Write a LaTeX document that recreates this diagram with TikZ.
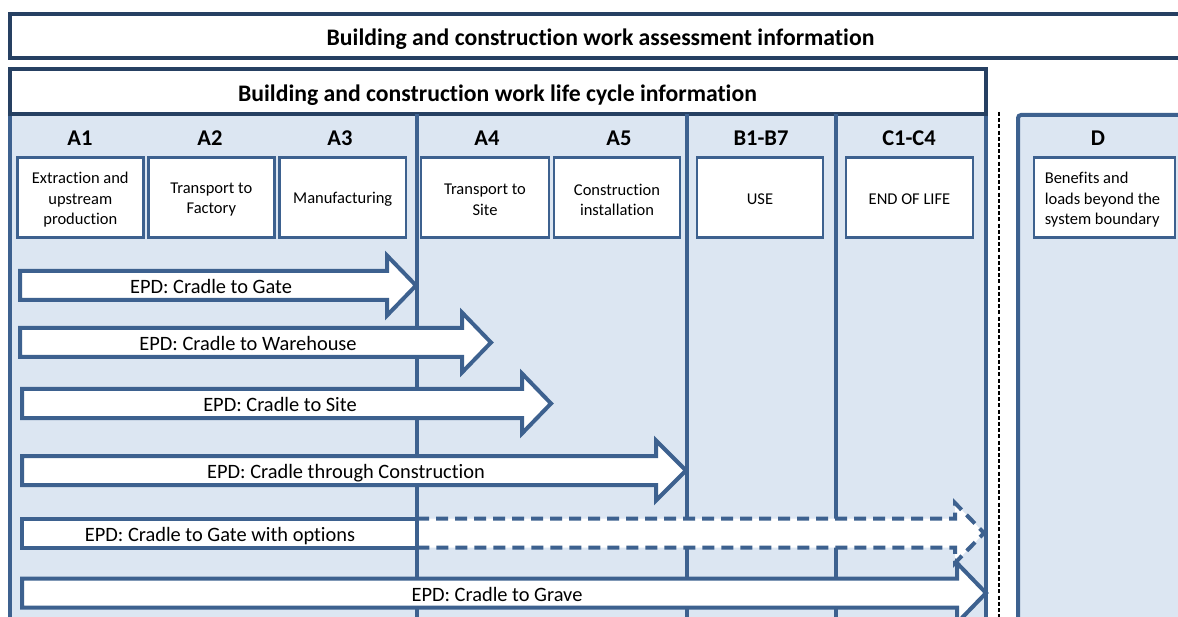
\documentclass[tikz,border=0pt]{standalone}
\usepackage{fontspec}
\setmainfont{Carlito}[Ligatures=NoCommon]
\definecolor{navy}{RGB}{38,64,98}
\definecolor{steel}{RGB}{61,97,143}
\definecolor{paleblue}{RGB}{220,230,242}
\tikzset{
  titlefont/.style={font=\fontsize{23.7}{28}\selectfont\bfseries, anchor=base, inner sep=0pt},
  headfont/.style={font=\fontsize{22.5}{27}\selectfont\bfseries, anchor=base, inner sep=0pt},
  stagebox/.style={draw=steel, line width=2.6pt, fill=white, minimum height=80pt, inner sep=0pt},
  stagetext/.style={align=center, inner sep=0pt, font=\fontsize{16.5}{20.5}\selectfont},
  arrowshape/.style={draw=steel, line width=4pt, fill=white, line join=miter},
  dasharrow/.style={draw=steel, line width=4pt, dash pattern=on 12pt off 7pt},
  arrowtext/.style={anchor=base, font=\fontsize{20.4}{24}\selectfont, inner sep=0pt},
  frameline/.style={draw=navy, line width=4.5pt, fill=white},
  divider/.style={draw=steel, line width=4pt},
  regionbox/.style={draw=steel, line width=4pt, fill=paleblue},
}
\newcommand\epdarrow[7]{%
  \draw[arrowshape] (#2,#5-14.5) -- (#3,#5-14.5) -- (#3,#5-30) -- (#4,#5)
    -- (#3,#5+30) -- (#3,#5+14.5) -- (#2,#5+14.5) -- cycle;
  \node[arrowtext] (#1) at (#7,#5+8) {#6};
}
% name, x-centre, width, text, extra text options
\newcommand\stage[5]{%
  \node[stagebox, minimum width=#3pt] (#1) at (#2,197.7) {};
  \node[stagetext, #5] (#1-t) at ([yshift=-2pt]#1.center) {#4};
}
\begin{document}
\begin{tikzpicture}[x=1pt,y=-1pt]
\useasboundingbox (0,0) rectangle (1178,617);
\clip (0,0) rectangle (1178,617);
\fill[white] (0,0) rectangle (1178,617);

% assessment frame
\draw[frameline] (10,14) rectangle (1210,58);
\node[titlefont] (assess) at (600.5,45.2) {Building and construction work assessment information};

% life cycle region
\draw[regionbox] (10,114) rectangle (986,700);
\draw[frameline] (10,69) rectangle (986,114);
\node[titlefont] (lifecycle) at (497.5,101.2) {Building and construction work life cycle information};

% module D region
\draw[regionbox, rounded corners=3pt] (1018,115) rectangle (1250,700);
\coordinate (dtop) at (999,112);
\coordinate (dbot) at (999,617);
\draw[black, line width=1.6pt, dash pattern=on 4pt off 2.2pt] (dtop) -- (dbot);

% dividers
\coordinate (d1t) at (417,114); \coordinate (d1b) at (417,700);
\coordinate (d2t) at (687,114); \coordinate (d2b) at (687,700);
\coordinate (d3t) at (836,114); \coordinate (d3b) at (836,700);
\draw[divider] (d1t) -- (d1b);
\draw[divider] (d2t) -- (d2b);
\draw[divider] (d3t) -- (d3b);

% headings
\node[headfont] (hA1) at (80,145.7) {A1};
\node[headfont] (hA2) at (210,145.7) {A2};
\node[headfont] (hA3) at (340,145.7) {A3};
\node[headfont] (hA4) at (487,145.7) {A4};
\node[headfont] (hA5) at (619,145.7) {A5};
\node[headfont] (hB) at (761,145.7) {B1-B7};
\node[headfont] (hC) at (909,145.7) {C1-C4};
\node[headfont] (hD) at (1098,145.7) {D};

% stage boxes
\stage{bA1}{80.3}{126}{Extraction and\\upstream\\production}{}
\stage{bA2}{211.3}{126}{Transport to\\Factory}{}
\stage{bA3}{342.7}{126.5}{Manufacturing}{}
\stage{bA4}{485}{128}{Transport to\\Site}{}
\stage{bA5}{617}{126}{Construction\\installation}{}
\stage{bB}{760}{126}{USE}{}
\stage{bC}{909.5}{127}{END OF LIFE}{}
\stage{bD}{1104.5}{141}{Benefits and\\loads beyond the\\system boundary}{align=left, xshift=-2pt}

% EPD arrows
\epdarrow{e1}{20}{387}{416}{285.5}{EPD: Cradle to Gate}{211}
\epdarrow{e2}{20}{462}{491}{342.5}{EPD: Cradle to Warehouse}{248}
\epdarrow{e3}{22}{522}{551}{403.5}{EPD: Cradle to Site}{280}
\epdarrow{e4}{22}{656}{686}{470.5}{EPD: Cradle through Construction}{346}

% cradle to gate with options (dashed extension)
\fill[white] (417,518.5) -- (955,518.5) -- (955,503) -- (984,533) -- (955,563) -- (955,547.5) -- (417,547.5) -- cycle;
\draw[dasharrow] (417,518.5) -- (955,518.5) -- (955,503) -- (984,533) -- (955,563) -- (955,547.5) -- (417,547.5);
\draw[arrowshape] (22,518.5) rectangle (417,547.5);
\node[arrowtext] (e5) at (220,541) {EPD: Cradle to Gate with options};

\epdarrow{e6}{22}{957}{986}{593}{EPD: Cradle to Grave}{497}
\end{tikzpicture}
\end{document}
